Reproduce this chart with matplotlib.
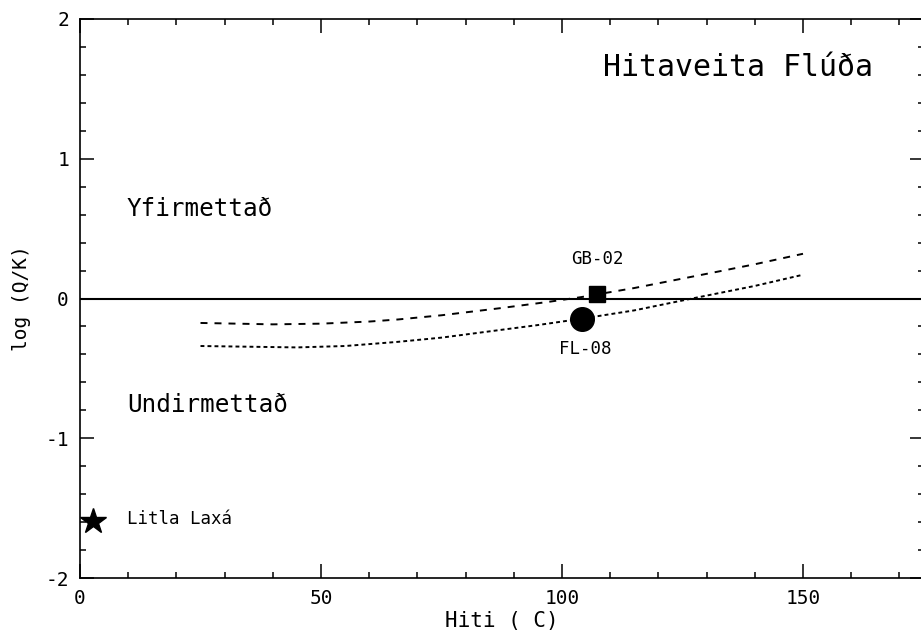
import numpy as np
import matplotlib
matplotlib.use("Agg")
import matplotlib.pyplot as plt
from matplotlib.ticker import MultipleLocator

# saturation index curves
temp_gb = [25, 40, 50, 60, 66, 75, 87, 97, 104, 115, 132, 140, 150]
logqk_gb = [-0.175, -0.185, -0.18, -0.165, -0.15, -0.12, -0.07, -0.025, 0.01, 0.075, 0.19, 0.245, 0.32]

temp_fl = [25, 35, 45, 55, 66, 75, 85, 95, 104, 115, 127, 140, 150]
logqk_fl = [-0.34, -0.345, -0.35, -0.34, -0.31, -0.28, -0.235, -0.19, -0.145, -0.085, 0.0, 0.09, 0.17]

# measured samples
gb02 = (107.3, 0.03)
fl08 = (104.1, -0.145)
litla_laxa = (2.7, -1.59)

plt.rcParams['font.family'] = ['DejaVu Sans Mono']
plt.rcParams['axes.unicode_minus'] = False

fig = plt.figure(figsize=(9.21, 6.38), dpi=100)
ax = fig.add_axes([80 / 921, 60 / 638, 843.5 / 921, 559 / 638])

ax.axhline(0, color='black', lw=1.5)
ax.plot(temp_gb, logqk_gb, color='black', lw=1.4, linestyle=(0, (3.6, 3.6)))
ax.plot(temp_fl, logqk_fl, color='black', lw=1.4, linestyle=(0, (2.0, 1.6)))

ax.plot(*gb02, marker='s', color='black', markersize=12, linestyle='none')
ax.plot(*fl08, marker='o', color='black', markersize=17, linestyle='none')
ax.plot(*litla_laxa, marker='*', color='black', markersize=19, linestyle='none')

ax.text(gb02[0], 0.28, 'GB-02', ha='center', va='center', fontsize=12.5)
ax.text(fl08[0] + 0.8, -0.36, 'FL-08', ha='center', va='center', fontsize=12.5)
ax.text(9.7, -1.58, 'Litla Laxá', ha='left', va='center', fontsize=12.5)
ax.text(9.7, 0.64, 'Yfirmettað', ha='left', va='center', fontsize=17.5)
ax.text(9.7, -0.76, 'Undirmettað', ha='left', va='center', fontsize=17.5)
ax.text(164.5, 1.65, 'Hitaveita Flúða', ha='right', va='center', fontsize=21.5)

ax.set_xlim(0, 175)
ax.set_ylim(-2, 2)
ax.xaxis.set_major_locator(MultipleLocator(50))
ax.xaxis.set_minor_locator(MultipleLocator(10))
ax.yaxis.set_major_locator(MultipleLocator(1))
ax.yaxis.set_minor_locator(MultipleLocator(0.2))
ax.tick_params(which='both', direction='in', top=True, right=True, width=1.1, labelsize=14)
ax.tick_params(which='major', length=10, pad=8)
ax.tick_params(which='minor', length=4.5)
for s in ax.spines.values():
    s.set_linewidth(1.2)

ax.set_xlabel('Hiti ( C)', fontsize=15, labelpad=2)
ax.set_ylabel('log (Q/K)', fontsize=14, labelpad=10)

fig.savefig('out.png', dpi=100)
